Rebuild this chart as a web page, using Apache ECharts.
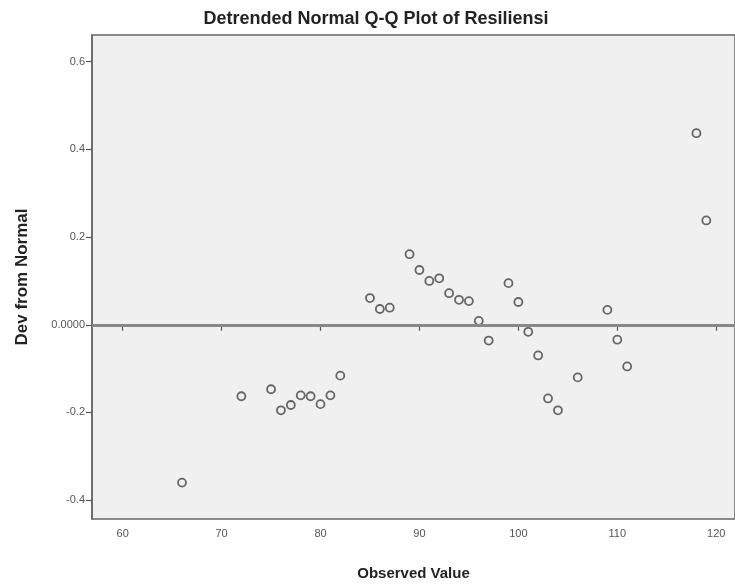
<!DOCTYPE html>
<html>
<head>
<meta charset="utf-8">
<script src="https://cdn.jsdelivr.net/npm/echarts@6/dist/echarts.min.js"></script>
<style>html,body{margin:0;padding:0;background:#fff}#c{width:735px;height:586px}</style>
</head>
<body>
<div id="c"></div>
<script>
var observed = [66,72,75,76,77,78,79,80,81,82,85,86,87,89,90,91,92,93,94,95,96,97,99,100,101,102,103,104,106,109,110,111,118,119];
var devFromNormal = [-0.360,-0.163,-0.147,-0.195,-0.183,-0.161,-0.163,-0.181,-0.161,-0.116,0.061,0.036,0.039,0.161,0.125,0.100,0.106,0.072,0.057,0.054,0.009,-0.036,0.095,0.052,-0.016,-0.070,-0.168,-0.195,-0.120,0.034,-0.034,-0.095,0.437,0.238];
var xTicks = [60,70,80,90,100,110,120];
var yTicks = [-0.4,-0.2,0,0.2,0.4,0.6];

var pts = observed.map(function(v,i){return [v, devFromNormal[i]];});
var F = 'Liberation Sans, Arial, sans-serif';
var chart = echarts.init(document.getElementById('c'));
chart.setOption({
  animation:false,
  title:{text:'Detrended Normal Q-Q Plot of Resiliensi', left:371, top:5, textAlign:'center',
    textStyle:{fontFamily:F, fontSize:18, fontWeight:'bold', color:'#222'}},
  grid:{left:92, top:35, right:0, bottom:64, show:true, backgroundColor:'#f0f0f0', borderColor:'#666', borderWidth:1.5},
  xAxis:{type:'value', min:56.9, max:121.9, splitLine:{show:false},
    name:'Observed Value', nameLocation:'middle', nameGap:47,
    nameTextStyle:{fontFamily:F, fontSize:15, fontWeight:'bold', color:'#222'},
    axisLine:{show:true, lineStyle:{color:'#666', width:1.5}},
    axisTick:{show:true, length:6, customValues:xTicks, lineStyle:{color:'#555', width:1.2}},
    axisLabel:{customValues:xTicks, color:'#555', fontSize:11, fontFamily:F, margin:9}},
  yAxis:{type:'value', min:-0.443, max:0.661, splitLine:{show:false},
    name:'Dev from Normal', nameLocation:'middle', nameGap:61, nameRotate:90,
    nameTextStyle:{fontFamily:F, fontSize:17, fontWeight:'bold', color:'#222'},
    axisLine:{show:true, lineStyle:{color:'#666', width:1.5}},
    axisTick:{show:true, length:6, customValues:yTicks, lineStyle:{color:'#555', width:1.2}},
    axisLabel:{customValues:yTicks, color:'#555', fontSize:11, fontFamily:F, margin:7,
      formatter:function(v){return Math.abs(v)<1e-9 ? '0.0000' : v.toFixed(1);}}},
  series:[{
    type:'scatter', data:pts, symbol:'circle', symbolSize:8,
    itemStyle:{color:'rgba(0,0,0,0)', borderColor:'#444', borderWidth:1.8},
    markLine:{silent:true, symbol:['none','none'], label:{show:false},
      lineStyle:{color:'#888', width:3, type:'solid'}, data:[{yAxis:0}]}
  }]
});
</script>
</body>
</html>
